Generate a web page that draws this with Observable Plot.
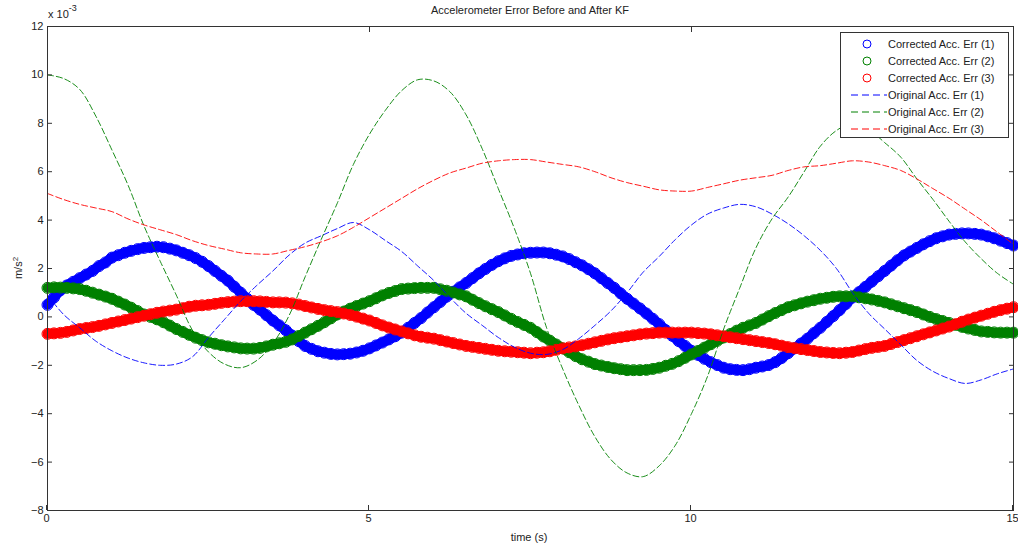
<!DOCTYPE html>
<html><head><meta charset="utf-8">
<script src="https://cdn.jsdelivr.net/npm/d3@7"></script>
<script src="https://cdn.jsdelivr.net/npm/@observablehq/plot@0.6"></script>
<style>
body{margin:0;background:#fff;font-family:"Liberation Sans",Arial,sans-serif;}
#wrap{position:relative;width:1018px;height:547px;overflow:hidden;background:#fff}
.t{position:absolute;font-size:11px;color:#222;white-space:nowrap;line-height:1}
#legend{position:absolute;left:840px;top:32px;width:167px;height:104px;border:1px solid #333;background:#fff}
.row{position:absolute;left:0;height:14px;width:167px}
.row svg{position:absolute;left:8px;top:0}
.row span{position:absolute;left:47px;top:1px;font-size:11px;color:#222}
</style></head><body><div id="wrap"></div>
<script>
// Time axes (s)
const tCorrected = d3.range(151).map(i => +(i * 0.1).toFixed(1));
const tOriginal = d3.range(61).map(i => i * 0.25);

// Values in units of 1e-3 m/s^2
const corrected1 = [0.5,0.8,1.1,1.3,1.45,1.6,1.75,1.9,2.1,2.25,
 2.45,2.55,2.65,2.73,2.8,2.85,2.88,2.9,2.88,2.82,
 2.75,2.65,2.55,2.43,2.28,2.1,1.9,1.7,1.5,1.25,
 1.0,0.75,0.5,0.3,0.07,-0.15,-0.35,-0.55,-0.77,-1.0,
 -1.2,-1.32,-1.42,-1.48,-1.53,-1.55,-1.54,-1.52,-1.47,-1.4,
 -1.3,-1.18,-1.06,-0.93,-0.8,-0.65,-0.45,-0.25,-0.05,0.18,
 0.4,0.62,0.84,1.04,1.22,1.4,1.6,1.8,1.98,2.15,
 2.3,2.42,2.52,2.58,2.63,2.65,2.66,2.66,2.63,2.57,
 2.5,2.39,2.26,2.13,1.97,1.8,1.6,1.4,1.2,0.97,
 0.75,0.55,0.35,0.14,-0.08,-0.3,-0.55,-0.78,-1.0,-1.2,
 -1.4,-1.57,-1.73,-1.87,-1.99,-2.1,-2.16,-2.19,-2.2,-2.16,
 -2.1,-2.05,-1.99,-1.87,-1.7,-1.5,-1.3,-1.1,-0.9,-0.67,
 -0.45,-0.21,0.03,0.28,0.54,0.8,1.02,1.24,1.46,1.68,
 1.9,2.12,2.34,2.54,2.7,2.85,3.0,3.13,3.25,3.33,
 3.4,3.43,3.45,3.45,3.43,3.4,3.33,3.25,3.15,3.05,
 2.95];
const corrected2 = [1.2,1.22,1.21,1.2,1.18,1.15,1.08,1.0,0.92,0.84,
 0.75,0.63,0.51,0.38,0.24,0.1,0.0,-0.1,-0.22,-0.36,
 -0.5,-0.62,-0.74,-0.86,-0.96,-1.05,-1.11,-1.17,-1.22,-1.26,
 -1.3,-1.31,-1.31,-1.28,-1.22,-1.15,-1.09,-1.03,-0.93,-0.79,
 -0.65,-0.51,-0.37,-0.22,-0.06,0.1,0.22,0.34,0.45,0.55,
 0.65,0.77,0.89,0.99,1.07,1.15,1.17,1.19,1.2,1.2,
 1.2,1.14,1.08,1.01,0.93,0.85,0.71,0.57,0.44,0.32,
 0.2,0.06,-0.08,-0.21,-0.33,-0.45,-0.63,-0.81,-0.98,-1.14,
 -1.3,-1.46,-1.62,-1.75,-1.85,-1.95,-2.01,-2.07,-2.12,-2.16,
 -2.2,-2.2,-2.2,-2.19,-2.15,-2.1,-2.02,-1.94,-1.83,-1.69,
 -1.55,-1.41,-1.27,-1.13,-0.99,-0.85,-0.71,-0.57,-0.45,-0.35,
 -0.25,-0.11,0.03,0.16,0.28,0.4,0.48,0.56,0.63,0.69,
 0.75,0.79,0.83,0.85,0.85,0.85,0.81,0.77,0.72,0.66,
 0.6,0.52,0.44,0.36,0.28,0.2,0.1,0.0,-0.09,-0.17,
 -0.25,-0.33,-0.41,-0.48,-0.54,-0.6,-0.62,-0.64,-0.65,-0.65,
 -0.65];
const corrected3 = [-0.7,-0.68,-0.66,-0.62,-0.56,-0.5,-0.46,-0.42,-0.37,-0.31,
 -0.25,-0.19,-0.13,-0.07,-0.01,0.05,0.11,0.17,0.22,0.26,
 0.3,0.36,0.42,0.46,0.48,0.5,0.54,0.58,0.61,0.63,
 0.65,0.65,0.65,0.64,0.62,0.6,0.6,0.59,0.56,0.51,
 0.45,0.39,0.33,0.28,0.24,0.2,0.14,0.08,0.01,-0.07,
 -0.15,-0.25,-0.35,-0.44,-0.52,-0.6,-0.68,-0.76,-0.82,-0.86,
 -0.9,-0.96,-1.02,-1.08,-1.14,-1.2,-1.24,-1.28,-1.32,-1.36,
 -1.4,-1.42,-1.44,-1.46,-1.48,-1.5,-1.48,-1.46,-1.42,-1.36,
 -1.3,-1.26,-1.22,-1.17,-1.11,-1.05,-0.99,-0.93,-0.88,-0.84,
 -0.8,-0.76,-0.72,-0.69,-0.67,-0.65,-0.65,-0.65,-0.65,-0.65,
 -0.65,-0.67,-0.69,-0.72,-0.76,-0.8,-0.84,-0.88,-0.92,-0.96,
 -1.0,-1.04,-1.08,-1.13,-1.19,-1.25,-1.29,-1.33,-1.37,-1.41,
 -1.45,-1.47,-1.49,-1.5,-1.48,-1.45,-1.39,-1.33,-1.28,-1.24,
 -1.2,-1.12,-1.04,-0.96,-0.88,-0.8,-0.72,-0.64,-0.56,-0.48,
 -0.4,-0.3,-0.2,-0.11,-0.03,0.05,0.13,0.21,0.28,0.34,
 0.4];
const original1 = [0.9,0.1,-0.45,-1.0,-1.4,-1.7,-1.9,-2.0,-1.95,-1.65,
 -0.85,-0.1,0.65,1.3,1.9,2.55,3.05,3.35,3.65,3.9,
 3.6,3.15,2.7,2.1,1.5,0.8,0.15,-0.35,-0.85,-1.25,
 -1.5,-1.55,-1.35,-0.9,-0.35,0.25,1.0,1.85,2.5,3.2,
 3.8,4.25,4.5,4.65,4.55,4.25,3.85,3.35,2.75,2.0,
 1.0,0.15,-0.5,-1.15,-1.8,-2.25,-2.55,-2.75,-2.6,-2.35,
 -2.15];
const original2 = [10.0,9.85,9.4,8.3,6.9,5.45,3.75,2.3,0.9,-0.55,
 -1.45,-1.95,-2.1,-1.8,-1.1,0.05,1.65,3.2,4.7,6.3,
 7.55,8.55,9.35,9.8,9.75,9.3,8.35,6.95,5.3,3.65,
 1.8,-0.45,-2.15,-3.65,-4.95,-5.9,-6.45,-6.6,-6.15,-5.3,
 -4.0,-2.45,-0.5,1.2,2.85,4.05,4.95,6.0,7.05,7.7,
 8.0,7.75,7.2,6.6,5.7,4.85,3.95,3.1,2.4,1.8,
 1.35];
const original3 = [5.1,4.85,4.65,4.5,4.35,4.05,3.8,3.6,3.4,3.15,
 2.95,2.8,2.65,2.6,2.6,2.75,2.9,3.1,3.35,3.7,
 4.1,4.5,4.9,5.3,5.65,5.95,6.15,6.35,6.45,6.5,
 6.5,6.4,6.3,6.2,6.0,5.75,5.55,5.4,5.25,5.2,
 5.2,5.35,5.5,5.65,5.75,5.85,6.05,6.2,6.25,6.35,
 6.45,6.4,6.25,6.05,5.7,5.3,4.9,4.45,4.0,3.5,
 3.0];

const xTicks = [0, 5, 10, 15];
const yTicks = [-8, -6, -4, -2, 0, 2, 4, 6, 8, 10, 12];
const seriesNames = ["Corrected Acc. Err (1)","Corrected Acc. Err (2)","Corrected Acc. Err (3)",
  "Original Acc. Err (1)","Original Acc. Err (2)","Original Acc. Err (3)"];
const colors = ["#0000ff", "#008000", "#ff0000"];

const toRows = (ts, vs) => ts.map((t, i) => ({t, v: vs[i]}));
const corr = [corrected1, corrected2, corrected3].map(v => toRows(tCorrected, v));
const orig = [original1, original2, original3].map(v => toRows(tOriginal, v));

const chart = Plot.plot({
  width: 1018, height: 547,
  marginLeft: 47, marginRight: 5, marginTop: 26, marginBottom: 37,
  style: {fontFamily: "Liberation Sans, Arial, sans-serif", fontSize: "11px", color: "#222", background: "white", overflow: "visible"},
  x: {domain: [0, 15]},
  y: {domain: [-8, 12]},
  marks: [
    ...corr.flatMap((d, i) => [
      Plot.line(d, {x: "t", y: "v", stroke: colors[i], strokeWidth: 10, curve: "catmull-rom"}),
      Plot.dot(d, {x: "t", y: "v", r: 5.5, stroke: colors[i], fill: "none", strokeWidth: 1})
    ]),
    ...orig.map((d, i) => Plot.line(d, {x: "t", y: "v", stroke: colors[i], strokeWidth: 0.9, strokeDasharray: "6,3", curve: "catmull-rom"})),
    Plot.frame({stroke: "#333", strokeWidth: 1}),
    Plot.axisX({ticks: xTicks, tickSize: -5, tickPadding: 9, label: null, stroke: "#333", dx: -1}),
    Plot.axisX({anchor: "top", ticks: xTicks, tickSize: -5, tickFormat: () => "", label: null, stroke: "#333"}),
    Plot.axisY({ticks: yTicks, tickSize: -5, tickPadding: 9, label: null, stroke: "#333"}),
    Plot.axisY({anchor: "right", ticks: yTicks, tickSize: -5, tickFormat: () => "", label: null, stroke: "#333"})
  ]
});
const wrap = document.getElementById("wrap");
wrap.appendChild(chart);
chart.style.position = "absolute"; chart.style.left = "0"; chart.style.top = "0";

function addText(html, css) {
  const d = document.createElement("div");
  d.className = "t"; d.innerHTML = html; Object.assign(d.style, css); wrap.appendChild(d); return d;
}
addText("Accelerometer Error Before and After KF", {left: "530px", top: "5px", transform: "translateX(-50%)"});
addText("x 10<sup style='font-size:9px;position:relative;top:-2px'>-3</sup>", {left: "48px", top: "6px"});
addText("time (s)", {left: "529px", top: "532px", transform: "translateX(-50%)"});
addText("m/s<sup style='font-size:8px'>2</sup>", {left: "18px", top: "268px", transform: "translate(-50%,-50%) rotate(-90deg)"});

const legend = document.createElement("div");
legend.id = "legend";
seriesNames.forEach((name, i) => {
  const row = document.createElement("div");
  row.className = "row";
  row.style.top = (4 + i * 17) + "px";
  const c = colors[i % 3];
  const sym = i < 3
    ? `<svg width="40" height="14"><circle cx="18" cy="7" r="4" fill="none" stroke="${c}" stroke-width="1"/></svg>`
    : `<svg width="40" height="14"><line x1="2" y1="7" x2="38" y2="7" stroke="${c}" stroke-width="1" stroke-dasharray="7,4"/></svg>`;
  row.innerHTML = sym + `<span>${name}</span>`;
  legend.appendChild(row);
});
wrap.appendChild(legend);
</script></body></html>
